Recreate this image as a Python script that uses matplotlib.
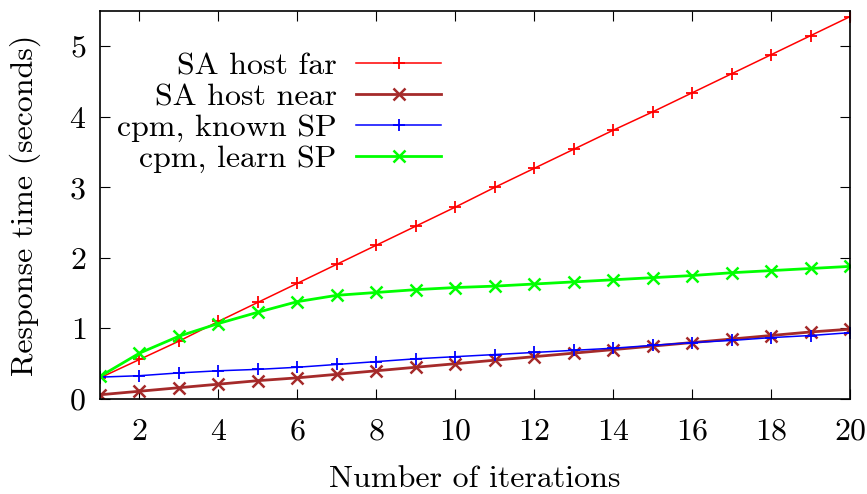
import matplotlib
matplotlib.use('Agg')
import matplotlib.pyplot as plt

iterations = list(range(1, 21))

sa_far = [0.30, 0.56, 0.82, 1.10, 1.37, 1.64, 1.91, 2.18, 2.45, 2.72,
          3.00, 3.27, 3.54, 3.81, 4.07, 4.34, 4.61, 4.88, 5.15, 5.42]
sa_near = [0.06, 0.11, 0.16, 0.21, 0.26, 0.30, 0.35, 0.40, 0.45, 0.50,
           0.55, 0.60, 0.65, 0.70, 0.75, 0.80, 0.85, 0.90, 0.95, 0.99]
cpm_known = [0.31, 0.33, 0.37, 0.40, 0.42, 0.45, 0.49, 0.53, 0.57, 0.60,
             0.63, 0.66, 0.69, 0.72, 0.76, 0.80, 0.83, 0.87, 0.90, 0.94]
cpm_learn = [0.32, 0.65, 0.89, 1.07, 1.23, 1.38, 1.47, 1.51, 1.55, 1.58,
             1.60, 1.63, 1.66, 1.69, 1.72, 1.75, 1.79, 1.82, 1.85, 1.88]

labels = ['SA host far', 'SA host near', 'cpm, known SP', 'cpm, learn SP']

plt.rcParams['font.family'] = ['cmr10', 'DejaVu Serif']
plt.rcParams['mathtext.fontset'] = 'cm'
plt.rcParams['axes.formatter.use_mathtext'] = True
plt.rcParams['font.size'] = 23

fig = plt.figure(figsize=(8.67, 4.94), dpi=100)
ax = fig.add_axes([100 / 867, 1 - 399 / 494, 750 / 867, 388 / 494])

ax.plot(iterations, sa_far, color='#ff0000', lw=1.1, marker='+', ms=9, mew=1.3, label=labels[0])
ax.plot(iterations, sa_near, color='#a52a2a', lw=2.0, marker='x', ms=8, mew=1.8, label=labels[1])
ax.plot(iterations, cpm_known, color='#0000ff', lw=1.1, marker='+', ms=9, mew=1.3, label=labels[2])
ax.plot(iterations, cpm_learn, color='#00ff00', lw=2.0, marker='x', ms=8, mew=1.8, label=labels[3])

ax.set_xlim(1, 20)
ax.set_ylim(0, 5.5)
ax.set_xticks(range(2, 21, 2))
ax.set_yticks(range(0, 6))
ax.tick_params(axis='x', pad=14)
ax.tick_params(axis='y', pad=10)
ax.tick_params(direction='in', top=True, right=True, length=7, width=0.8)
for s in ax.spines.values():
    s.set_linewidth(1.2)

ax.set_xlabel('Number of iterations', labelpad=14)
ax.set_ylabel('Response time (seconds)', labelpad=20)

ax.legend(loc='upper right', bbox_to_anchor=(441 / 867, 1 - 52 / 494),
          bbox_transform=fig.transFigure, frameon=False, markerfirst=False,
          handlelength=2.65, handletextpad=0.62, labelspacing=0.08, borderpad=0,
          borderaxespad=0)

fig.savefig('out.png', dpi=100)
